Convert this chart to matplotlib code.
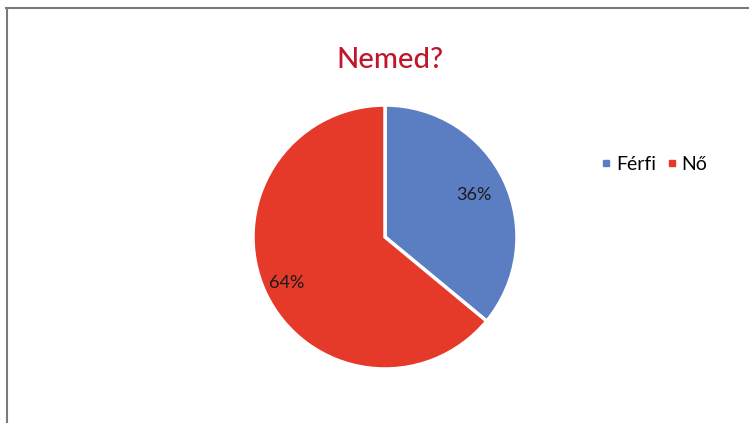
import numpy as np
import matplotlib.pyplot as plt
from matplotlib.lines import Line2D

# datos
categorias = ["Férfi", "Nő"]
valores = [36, 64]
colores = ["#5B7EC2", "#E5392A"]
titulo = "Nemed?"

plt.rcParams['font.family'] = ['Lato', 'DejaVu Sans']

fig = plt.figure(figsize=(7.49, 4.23), dpi=100)

# marco (cortado a la derecha y abajo)
fig.add_artist(Line2D([6/749, 1], [1-8.5/423, 1-8.5/423], color="#7a7a7a", lw=1.5))
fig.add_artist(Line2D([6.5/749, 6.5/749], [0, 1-8.5/423], color="#7a7a7a", lw=1.5))

cx, cy, r = 385, 237, 132
ax = fig.add_axes([(cx-r)/749, (423-cy-r)/423, 2*r/749, 2*r/423])

wedges, textos, pcts = ax.pie(valores, colors=colores, startangle=90, counterclock=False,
                              autopct="%1.0f%%", pctdistance=0.78,
                              wedgeprops=dict(edgecolor="white", linewidth=2.5),
                              textprops=dict(fontsize=13, color="#1a1a1a"))
ax.set_xlim(-1, 1)
ax.set_ylim(-1, 1)
ax.set_aspect("auto")

# ajustar distancia de etiquetas
dist = [0.74, 0.82]
for w, t, d in zip(wedges, pcts, dist):
    ang = np.deg2rad((w.theta1 + w.theta2) / 2)
    t.set_position((d*np.cos(ang), d*np.sin(ang)))

fig.text(390/749, 1-60/423, titulo, ha="center", va="center", fontsize=21,
         color="#C0162B", fontweight="medium")

handles = [Line2D([], [], marker="s", linestyle="", color=c, markersize=4.5) for c in colores]
fig.legend(handles, categorias, loc="center", bbox_to_anchor=(652/749, 1-164/423), ncol=2,
           frameon=False, fontsize=14, handletextpad=0.0, columnspacing=0.3, handlelength=1)

plt.savefig("out.png", dpi=100)
